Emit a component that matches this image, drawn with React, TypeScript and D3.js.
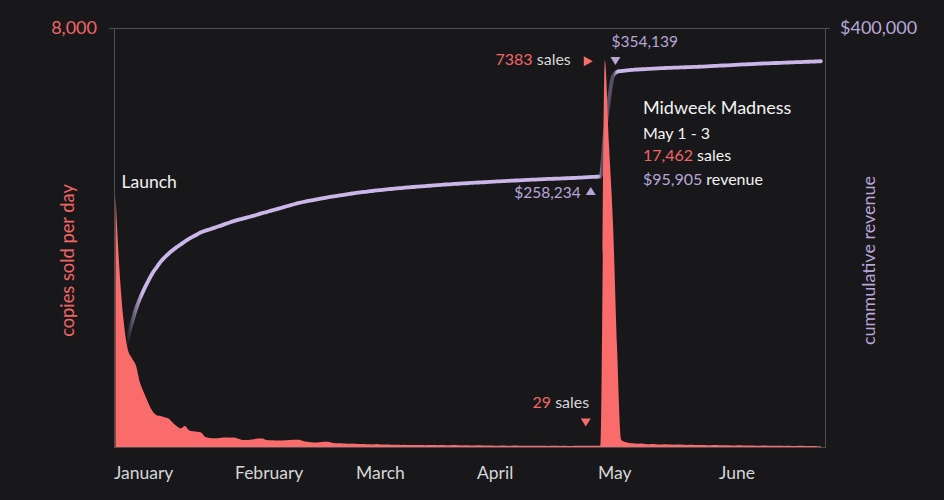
import React from "react";
import * as d3 from "d3";

// ---------- DATA ----------
const YEAR = 2019;
const monthLabels = ["January", "February", "March", "April", "May", "June"];

// copies sold per day, starting Jan 1 (launch day)
const dailySales = [
  4810, 3350, 2400, 1870, 1700, 1560, 1230, 1030, 850, 690,
  610, 590, 570, 545, 470, 400, 355, 400, 320, 300,
  290, 275, 190, 172, 165, 168, 175, 180, 178, 182,
  160, 135, 132, 138, 150, 160, 163, 135, 128, 125,
  122, 126, 130, 134, 137, 140, 115, 100, 92, 85,
  90, 100, 98, 82, 72, 70, 66, 63, 68, 60,
  55, 58, 52, 50, 55, 48, 46, 50, 44, 42,
  40, 45, 38, 36, 40, 37, 35, 39, 36, 34,
  38, 35, 33, 36, 32, 31, 34, 30, 28, 32,
  29, 27, 30, 26, 25, 28, 26, 24, 27, 25,
  23, 26, 24, 22, 25, 23, 21, 24, 22, 20,
  23, 21, 20, 24, 22, 25, 22, 25, 24, 29,
  7383, 5800, 4279, 1900, 140, 95, 78, 70, 62, 66,
  58, 54, 57, 50, 48, 52, 46, 44, 47, 42,
  40, 43, 38, 37, 40, 35, 34, 37, 33, 32,
  35, 30, 29, 32, 28, 27, 30, 26, 25, 28,
  24, 23, 26, 22, 21, 24, 20, 19, 22, 18,
  17, 20, 16, 15,
];

// cumulative revenue in thousands of dollars, same days
const cumulativeRevenueK = [
  40.4, 68.5, 88.7, 104.4, 118.6, 131.7, 141.9, 150.5, 158.2, 165.5,
  171.0, 176.5, 180.8, 184.5, 187.8, 190.8, 193.4, 196.2, 198.6, 200.8,
  202.9, 205.0, 206.4, 207.7, 209.0, 210.3, 211.6, 213.0, 214.3, 215.6,
  216.8, 217.8, 218.8, 219.8, 220.9, 222.1, 223.3, 224.3, 225.4, 226.5,
  227.6, 228.7, 229.8, 230.9, 232.0, 233.0, 233.9, 234.7, 235.4, 236.1,
  236.8, 237.6, 238.4, 239.0, 239.6, 240.2, 240.8, 241.4, 242.0, 242.5,
  243.0, 243.5, 244.0, 244.4, 244.9, 245.3, 245.7, 246.1, 246.5, 246.9,
  247.2, 247.6, 247.9, 248.2, 248.5, 248.8, 249.1, 249.4, 249.7, 250.0,
  250.3, 250.6, 250.8, 251.1, 251.3, 251.6, 251.8, 252.1, 252.3, 252.5,
  252.7, 252.9, 253.2, 253.4, 253.6, 253.8, 254.0, 254.2, 254.4, 254.6,
  254.8, 255.0, 255.2, 255.3, 255.5, 255.7, 255.9, 256.0, 256.2, 256.3,
  256.5, 256.6, 256.8, 257.0, 257.2, 257.4, 257.6, 257.8, 258.0, 258.234,
  298.767, 330.609, 354.139, 358.2, 358.9, 359.4, 359.8, 360.1, 360.4, 360.6,
  360.8, 361.0, 361.2, 361.4, 361.6, 361.8, 361.95, 362.1, 362.25, 362.4,
  362.55, 362.7, 362.85, 363.0, 363.2, 363.4, 363.6, 363.8, 364.0, 364.2,
  364.4, 364.6, 364.8, 365.0, 365.2, 365.4, 365.6, 365.8, 366.0, 366.15,
  366.3, 366.45, 366.6, 366.75, 366.9, 367.05, 367.2, 367.35, 367.5, 367.65,
  367.8, 367.95, 368.1, 368.25,
];

const salesTicks = [8000];
const revenueTicks = [400000];

const saleEvent = {
  title: "Midweek Madness",
  dates: "May 1 - 3",
  startDay: 120, // May 1
  endDay: 122, // May 3
  sales: 17462,
  revenue: 95905,
};

// ---------- STYLE ----------
const BG = "#18181b";
const RED = "#fa6b6b";
const RED_TEXT = "#f26565";
const PURPLE = "#cbb6ea";
const PURPLE_TEXT = "#b9a6d8";
const WHITE = "#f2f2f2";
const GREY_TEXT = "#d6d6d6";
const FRAME = "#4d4d52";
const FONT = "Lato, 'Open Sans', sans-serif";

const W = 944;
const H = 500;
const M = { top: 28, right: 119, bottom: 53, left: 114 };

export default function App() {
  React.useEffect(() => {
    document.body.style.margin = "0";
    document.body.style.background = BG;
  }, []);

  const left = M.left;
  const right = W - M.right;
  const top = M.top;
  const bottom = H - M.bottom;

  const dates = dailySales.map((_, i) => new Date(YEAR, 0, 1 + i));
  const x = d3
    .scaleTime()
    .domain([new Date(YEAR, 0, 1), new Date(YEAR, 5, 24)])
    .range([left + 1.5, right]);
  const ySales = d3.scaleLinear().domain([0, 8000]).range([bottom, top]);
  const yRev = d3.scaleLinear().domain([0, 400000]).range([bottom, top]);
  const monthX = d3.scaleBand<string>().domain(monthLabels).range([left, left + 6 * 121]);

  const area = d3
    .area<number>()
    .x((_, i) => x(dates[i]))
    .y0(ySales(0))
    .y1((d) => ySales(d))
    .curve(d3.curveMonotoneX);
  const line = d3
    .line<number>()
    .x((_, i) => x(dates[i]))
    .y((d) => yRev(d * 1000))
    .curve(d3.curveMonotoneX);

  const fmt = d3.format(",");
  const fmtD = (v: number) => "$" + d3.format(",")(Math.round(v));

  const off = (px: number) => Math.max(0, Math.min(1, (px - left) / (right - left)));
  const xLaunch = x(dates[0]);
  const xPre = x(dates[saleEvent.startDay - 1]);
  const xEnd = x(dates[saleEvent.endDay]);

  const peakIdx = d3.maxIndex(dailySales.slice(100));
  const peakI = 100 + peakIdx;
  const peakVal = dailySales[peakI];
  const preVal = dailySales[saleEvent.startDay - 1];
  const revPre = cumulativeRevenueK[saleEvent.startDay - 1] * 1000;
  const revPost = cumulativeRevenueK[saleEvent.endDay] * 1000;

  const tri = (cx: number, cy: number, dir: "up" | "down" | "right") => {
    const w = 5, h = 4;
    if (dir === "down") return `M${cx - w},${cy - h}L${cx + w},${cy - h}L${cx},${cy + h}Z`;
    if (dir === "up") return `M${cx - w},${cy + h}L${cx + w},${cy + h}L${cx},${cy - h}Z`;
    return `M${cx - h},${cy - w}L${cx - h},${cy + w}L${cx + h + 1},${cy}Z`;
  };

  const bx = xEnd + 30;

  return (
    <svg
      width={W}
      height={H}
      style={{ position: "absolute", left: 0, top: 0, display: "block" }}
      fontFamily={FONT}
    >
      <defs>
        <linearGradient id="revFade" gradientUnits="userSpaceOnUse" x1={left} x2={right} y1={0} y2={0}>
          <stop offset={off(xLaunch + 11)} stopColor={PURPLE} stopOpacity={0} />
          <stop offset={off(xLaunch + 27)} stopColor={PURPLE} stopOpacity={1} />
          <stop offset={off(xPre - 2)} stopColor={PURPLE} stopOpacity={1} />
          <stop offset={off(xPre + 0.5)} stopColor={PURPLE} stopOpacity={0.35} />
          <stop offset={off(xEnd + 0.5)} stopColor={PURPLE} stopOpacity={0.35} />
          <stop offset={off(xEnd + 4)} stopColor={PURPLE} stopOpacity={1} />
        </linearGradient>
      </defs>
      <rect x={0} y={0} width={W} height={H} fill={BG} />

      {/* frame */}
      <g stroke={FRAME} strokeWidth={1} fill="none" shapeRendering="crispEdges">
        <line x1={left - 5} x2={right + 5} y1={ySales(salesTicks[0]) + 0.5} y2={ySales(salesTicks[0]) + 0.5} />
        <line x1={left + 0.5} x2={left + 0.5} y1={top} y2={bottom} />
        <line x1={right + 0.5} x2={right + 0.5} y1={top} y2={bottom} />
        <line x1={left} x2={right + 1} y1={bottom + 0.5} y2={bottom + 0.5} />
      </g>

      {/* revenue line (under area) */}
      <path d={line(cumulativeRevenueK) || ""} fill="none" stroke="url(#revFade)" strokeWidth={3.8} strokeLinejoin="round" strokeLinecap="round" />

      {/* sales area */}
      <path d={area(dailySales) || ""} fill={RED} />

      {/* axis tick labels */}
      {salesTicks.map((t) => (
        <text key={t} x={left - 17} y={ySales(t)} dy="0.35em" textAnchor="end" fontSize={18} fill={RED_TEXT}>
          {fmt(t)}
        </text>
      ))}
      {revenueTicks.map((t) => (
        <text key={t} x={right + 15} y={yRev(t)} dy="0.35em" textAnchor="start" fontSize={18} fill={PURPLE_TEXT}>
          {"$" + fmt(t)}
        </text>
      ))}
      {monthLabels.map((m) => (
        <text key={m} x={monthX(m)} y={479} fontSize={17.5} fill={GREY_TEXT}>
          {m}
        </text>
      ))}

      {/* axis titles */}
      <text transform={`translate(74,${(top + bottom) / 2 + 23}) rotate(-90)`} textAnchor="middle" fontSize={18.3} fill={RED_TEXT}>
        copies sold per day
      </text>
      <text transform={`translate(875,${(top + bottom) / 2 + 23}) rotate(-90)`} textAnchor="middle" fontSize={18} fill={PURPLE_TEXT}>
        cummulative revenue
      </text>

      {/* launch */}
      <text x={xLaunch + 6} y={ySales(dailySales[0]) - 7.5} fontSize={17.5} fill={WHITE}>
        Launch
      </text>

      {/* peak annotation */}
      <path d={tri(x(dates[peakI]) - 17, ySales(peakVal) + 1, "right")} fill={RED} />
      <text x={x(dates[peakI]) - 34} y={ySales(peakVal) + 5} textAnchor="end" fontSize={16}>
        <tspan fill={RED_TEXT}>{peakVal}</tspan>
        <tspan fill={GREY_TEXT}> sales</tspan>
      </text>

      {/* revenue after sale */}
      <path d={tri(xEnd + 2.5, yRev(revPost) - 15, "down")} fill={PURPLE_TEXT} />
      <text x={xEnd - 1.5} y={yRev(revPost) - 29} fontSize={15.5} fill={PURPLE_TEXT}>
        {fmtD(revPost)}
      </text>

      {/* revenue before sale */}
      <path d={tri(xPre - 10, yRev(revPre) + 14.5, "up")} fill={PURPLE_TEXT} />
      <text x={xPre - 20} y={yRev(revPre) + 22} textAnchor="end" fontSize={15.5} fill={PURPLE_TEXT}>
        {fmtD(revPre)}
      </text>

      {/* low point before sale */}
      <path d={tri(xPre - 15, ySales(preVal) - 23, "down")} fill={RED} />
      <text x={xPre - 11.5} y={ySales(preVal) - 37} textAnchor="end" fontSize={16}>
        <tspan fill={RED_TEXT}>{preVal}</tspan>
        <tspan fill={GREY_TEXT}> sales</tspan>
      </text>

      {/* sale info block */}
      <text x={bx} y={113.5} fontSize={18} fill={WHITE}>
        {saleEvent.title}
      </text>
      <text x={bx} y={138.5} fontSize={16} fill={WHITE}>
        {saleEvent.dates}
      </text>
      <text x={bx} y={161} fontSize={16}>
        <tspan fill={RED_TEXT}>{fmt(saleEvent.sales)}</tspan>
        <tspan fill={WHITE}> sales</tspan>
      </text>
      <text x={bx} y={184.5} fontSize={16}>
        <tspan fill={PURPLE_TEXT}>{fmtD(saleEvent.revenue)}</tspan>
        <tspan fill={WHITE}> revenue</tspan>
      </text>
    </svg>
  );
}
